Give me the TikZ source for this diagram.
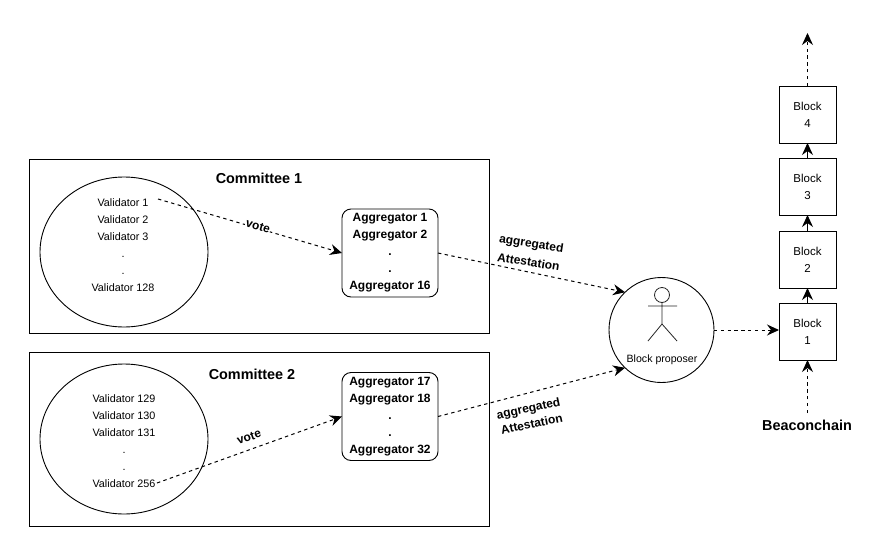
\documentclass[tikz,border=0pt]{standalone}
\usepackage{fontspec}
\setmainfont{Liberation Sans}
\usetikzlibrary{arrows.meta,shapes.geometric}
\tikzset{
  every node/.style={font=\fontsize{10.8}{17}\selectfont, align=center, inner sep=0pt, outer sep=0pt},
  cmt/.style={draw=black, line width=0.9pt, minimum width=460pt, minimum height=174pt},
  ell/.style={draw=black, line width=0.9pt, ellipse, minimum width=168pt, minimum height=150pt},
  agg/.style={draw=black, line width=0.9pt, rounded corners=9pt, minimum width=96pt, minimum height=88pt, font=\fontsize{12}{17}\selectfont\bfseries},
  blk/.style={draw=black, line width=0.9pt, minimum width=57pt, minimum height=57pt, font=\fontsize{11.5}{17}\selectfont},
  ttl/.style={font=\fontsize{14.4}{16}\selectfont\bfseries},
  lbla/.style={font=\fontsize{12}{19}\selectfont\bfseries},
  lblb/.style={font=\fontsize{12}{16}\selectfont\bfseries},
  votel/.style={font=\fontsize{12}{13}\selectfont\bfseries, fill=white, inner sep=0.5pt},
  dashline/.style={line width=1pt, dash pattern=on 3.4pt off 3.4pt, -{Stealth[length=12pt,width=11pt,inset=4pt]}},
  solidline/.style={line width=1pt, -{Stealth[length=12pt,width=11pt,inset=4pt]}},
}
\begin{document}
\begin{tikzpicture}[x=1pt,y=-1pt]
\useasboundingbox (0,0) rectangle (876,552);
\fill[white] (0,0) rectangle (876,552);
% committees
\node[cmt] (c1) at (259,246) {};
\node[cmt] (c2) at (259,439) {};
\node[ttl] (t1) at (259,178) {Committee 1};
\node[ttl] (t2) at (252,374) {Committee 2};
% validators
\node[ell] (e1) at (124,252) {};
\node[ell] (e2) at (124,439) {};
\node (v1) at (123,245) {Validator 1\\Validator 2\\Validator 3\\.\\.\\Validator 128};
\node (v2) at (124,441) {Validator 129\\Validator 130\\Validator 131\\.\\.\\Validator 256};
% aggregators
\node[agg] (a1) at (390,253) {Aggregator 1\\Aggregator 2\\.\\.\\Aggregator 16};
\node[agg] (a2) at (390,416.5) {Aggregator 17\\Aggregator 18\\.\\.\\Aggregator 32};
% proposer
\node[draw=black, line width=0.9pt, circle, minimum size=105pt] (p) at (661.5,330) {};
\node[font=\fontsize{10.6}{12}\selectfont] (pt) at (662,359.5) {Block proposer};
\draw[line width=0.8pt, draw=black!85]
  (662,295) circle (7.5)
  (662,302.5) -- (662,324)
  (648,306) -- (677,306)
  (648,341) -- (662,324) -- (677,341);
% blocks
\node[blk] (b1) at (807.5,331.5) {Block\\1};
\node[blk] (b2) at (807.5,259.5) {Block\\2};
\node[blk] (b3) at (807.5,186.5) {Block\\3};
\node[blk] (b4) at (807.5,114.5) {Block\\4};
\node[ttl] (bc) at (807,425) {Beaconchain};
% free ends
\coordinate (s1) at (158,199);
\coordinate (s2) at (157,483);
\coordinate (topend) at (807.5,33);
\coordinate (bcend) at (807.5,413);
% connectors
\draw[dashline] (s1) -- (a1.west);
\draw[dashline] (s2) -- (a2.west);
\draw[dashline] (a1.east) -- (p.134);
\draw[dashline] (a2.east) -- (p.226);
\draw[dashline] (p.east) -- (p.east -| b1.west);
\draw[dashline] (bcend) -- (b1.south);
\draw[solidline] (b1.north) -- (b2.south);
\draw[solidline] (b2.north) -- (b3.south);
\draw[solidline] (b3.north) -- (b4.south);
\draw[dashline] (b4.north) -- (topend);
% labels
\node[votel, rotate=-16] (lv1) at (258,226) {vote};
\node[font=\fontsize{12}{13}\selectfont\bfseries, rotate=19] (lv2) at (249,437) {vote};
\node[lbla, rotate=-9] (la1) at (530,252.5) {aggregated\\Attestation};
\node[lblb, rotate=12] (la2) at (530,416) {aggregated\\Attestation};
\end{tikzpicture}
\end{document}
